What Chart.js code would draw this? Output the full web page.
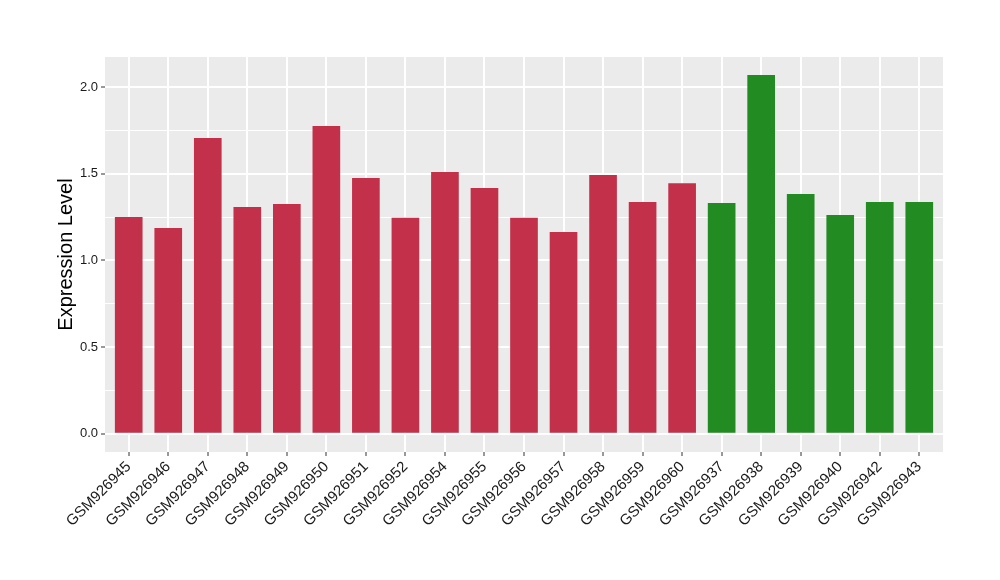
<!DOCTYPE html>
<html>
<head>
<meta charset="utf-8">
<script src="https://cdn.jsdelivr.net/npm/chart.js@4.4.0/dist/chart.umd.min.js"></script>
<style>
  html, body { margin: 0; padding: 0; background: #fff; }
  #wrap { width: 1000px; height: 580px; }
</style>
</head>
<body>
<div id="wrap"><canvas id="chart" width="1000" height="580"></canvas></div>
<script>
// samples and their expression values
const samples = ['GSM926945', 'GSM926946', 'GSM926947', 'GSM926948', 'GSM926949', 'GSM926950',
  'GSM926951', 'GSM926952', 'GSM926954', 'GSM926955', 'GSM926956', 'GSM926957', 'GSM926958',
  'GSM926959', 'GSM926960', 'GSM926937', 'GSM926938', 'GSM926939', 'GSM926940', 'GSM926942', 'GSM926943'];
const values = [1.251, 1.188, 1.707, 1.309, 1.326, 1.777, 1.476, 1.246, 1.511, 1.419, 1.246, 1.165,
  1.493, 1.338, 1.446, 1.332, 2.071, 1.384, 1.263, 1.338, 1.338];
const groups = ['a', 'a', 'a', 'a', 'a', 'a', 'a', 'a', 'a', 'a', 'a', 'a', 'a', 'a', 'a',
  'b', 'b', 'b', 'b', 'b', 'b'];
const yTicks = [0, 0.25, 0.5, 0.75, 1.0, 1.25, 1.5, 1.75, 2.0];

const groupColors = { a: '#C3304A', b: '#228B22' };
const isMajor = v => Math.abs(v * 2 - Math.round(v * 2)) < 1e-6;

// grey panel behind the bars
const panelBg = {
  id: 'panelBg',
  beforeDraw(chart) {
    const a = chart.chartArea;
    const ctx = chart.ctx;
    ctx.save();
    ctx.fillStyle = '#EBEBEB';
    ctx.fillRect(a.left, a.top, a.right - a.left, a.bottom - a.top);
    ctx.restore();
  }
};

// x is a linear index scale so the ends get ggplot's 0.6 expansion
const points = samples.map((s, i) => ({ x: i, y: values[i] }));

const ctx = document.getElementById('chart').getContext('2d');
new Chart(ctx, {
  type: 'bar',
  data: {
    datasets: [{
      data: points,
      backgroundColor: groups.map(g => groupColors[g]),
      borderWidth: 0,
      barPercentage: 0.7,
      categoryPercentage: 1.0
    }]
  },
  options: {
    responsive: false,
    animation: false,
    devicePixelRatio: 1,
    layout: { padding: { top: 57, right: 57, left: 0, bottom: 0 } },
    plugins: { legend: { display: false }, tooltip: { enabled: false } },
    scales: {
      x: {
        type: 'linear',
        min: -0.6,
        max: samples.length - 0.4,
        offset: false,
        afterBuildTicks(scale) { scale.ticks = samples.map((s, i) => ({ value: i })); },
        grid: {
          offset: false,
          color: '#FFFFFF',
          lineWidth: 2,
          tickColor: '#333333',
          tickWidth: 1,
          tickLength: 4
        },
        border: { display: false },
        ticks: {
          color: '#1A1A1A',
          font: { family: 'Liberation Sans', size: 15 },
          minRotation: 45,
          maxRotation: 45,
          autoSkip: false,
          padding: 2,
          callback: v => samples[v]
        },
        afterFit(scale) { scale.height = 128; }
      },
      y: {
        min: -0.106,
        max: 2.175,
        afterBuildTicks(scale) { scale.ticks = yTicks.map(v => ({ value: v })); },
        grid: {
          color: '#FFFFFF',
          lineWidth: c => isMajor(c.tick.value) ? 2 : 1,
          tickColor: c => isMajor(c.tick.value) ? '#333333' : 'rgba(0,0,0,0)',
          tickWidth: 1,
          tickLength: 4
        },
        border: { display: false },
        ticks: {
          color: '#1A1A1A',
          font: { family: 'Liberation Sans', size: 13 },
          padding: 3,
          callback: v => isMajor(v) ? v.toFixed(1) : ''
        },
        title: {
          display: true,
          text: 'Expression Level',
          color: '#000000',
          font: { family: 'Liberation Sans', size: 20 },
          padding: { top: 54, bottom: 0 }
        },
        afterFit(scale) { scale.width = 105; }
      }
    }
  },
  plugins: [panelBg]
});
</script>
</body>
</html>
